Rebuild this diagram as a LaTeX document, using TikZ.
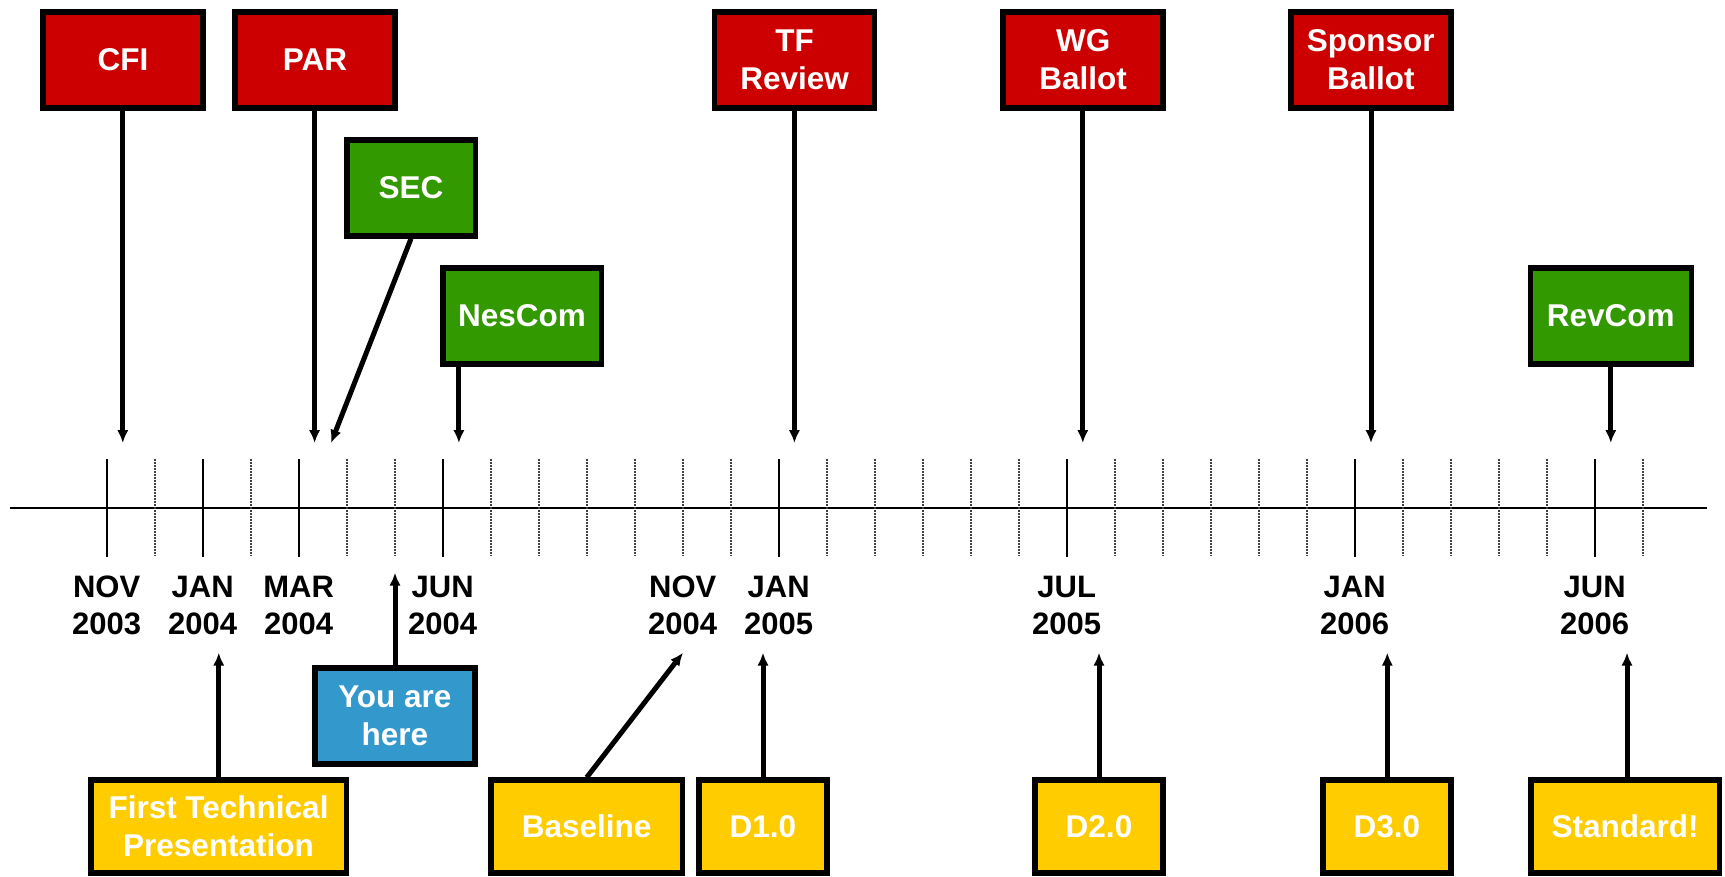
\documentclass[tikz,border=0pt]{standalone}
\usepackage{fontspec}
\setmainfont{Liberation Sans}
\usetikzlibrary{arrows.meta}
\definecolor{evred}{HTML}{CC0000}
\definecolor{evgreen}{HTML}{339900}
\definecolor{evyellow}{HTML}{FFCC00}
\definecolor{evblue}{HTML}{3399CC}
\tikzset{event/.style={
  rectangle,
  draw,line width=5.5pt,
  text=white,align=center,
  font=\bfseries\fontsize{31.5}{38}\selectfont,
  inner sep=0pt,minimum width=160pt,minimum height=96pt}}
\tikzset{datelabel/.style={
  align=center,inner sep=0pt,
  font=\bfseries\fontsize{31}{37.6}\selectfont}}
\tikzset{>={Latex[length=13pt,width=11.5pt]}}
\tikzset{pointer/.style={->,line width=5pt}}

\begin{document}
\begin{tikzpicture}[x={(1pt,0pt)},y={(0pt,-1pt)}]
  \useasboundingbox (0,0) rectangle (1725,877);
  % time axis, one tick per month from NOV 2003
  \draw[line width=2pt] (9.8,508) -- (1707,508);
  \foreach \i in {1,3,5,6,8,9,10,11,12,13,15,16,17,18,19,21,22,23,24,25,27,28,29,30,32}
    \draw[line width=1.6pt,black!75,dash pattern=on 1.5pt off 1.5pt]
      ({106.7+48*\i},459) -- ({106.7+48*\i},556);
  \foreach \i in {0,2,4,7,14,20,26,31}
    \draw[line width=2pt] ({106.7+48*\i},459) -- ({106.7+48*\i},557);
  \foreach \n/\i/\m/\y in {
      nov03/0/NOV/2003, jan04/2/JAN/2004, mar04/4/MAR/2004,
      jun04/7/JUN/2004, nov04/12/NOV/2004, jan05/14/JAN/2005,
      jul05/20/JUL/2005, jan06/26/JAN/2006, jun06/31/JUN/2006 }
    \node[datelabel] (\n) at ({106.7+48*\i},605.5) {\m\\\y};
  % events above the axis
  \node[event,fill=evred] (cfi) at (122.9,59.9) {CFI};
  \node[event,fill=evred] (par) at (315,59.9) {PAR};
  \node[event,fill=evred] (tf) at (794.7,59.9) {TF\\Review};
  \node[event,fill=evred] (wg) at (1083.2,59.9) {WG\\Ballot};
  \node[event,fill=evred] (sponsor) at (1370.8,59.9) {Sponsor\\Ballot};
  \node[event,fill=evgreen,minimum width=128.5pt] (sec) at (411,187.9) {SEC};
  \node[event,fill=evgreen,minimum width=158.5pt] (nescom) at (522,315.9) {NesCom};
  \node[event,fill=evgreen,minimum width=161pt] (revcom) at (1610.8,315.9) {RevCom};
  % documents below the axis
  \node[event,fill=evblue] (here) at (394.9,716) {You are\\here};
  \node[event,fill=evyellow,minimum width=255.5pt,minimum height=93pt]
    (ftp) at (218.5,826.7) {First Technical\\Presentation};
  \node[event,fill=evyellow,minimum width=191.8pt,minimum height=93pt]
    (baseline) at (586.7,826.7) {Baseline};
  \node[event,fill=evyellow,minimum width=128pt,minimum height=93pt]
    (dA) at (762.8,826.7) {D1.0};
  \node[event,fill=evyellow,minimum width=128pt,minimum height=93pt]
    (dB) at (1099,826.7) {D2.0};
  \node[event,fill=evyellow,minimum width=128pt,minimum height=93pt]
    (dC) at (1386.8,826.7) {D3.0};
  \node[event,fill=evyellow,minimum width=188.5pt,minimum height=93pt]
    (std) at (1625,826.7) {Standard!};
  % arrow ends
  \foreach \n/\x/\y in {
      cfi/122.8/443, par/314.6/443, sec/331/443,
      nescom/458.9/443, tf/794.4/443, wg/1082.8/443,
      sponsor/1371/443, revcom/1610.8/443,
      ftp/218.75/652.7, here/395/572.7, baseline/683/652.7,
      dA/763/652.7, dB/1099/652.7, dC/1387.3/652.7, std/1627/652.7 }
    \coordinate (tip\n) at (\x,\y);
  \foreach \n in {cfi,par,nescom,tf,wg,sponsor,revcom}
    \draw[pointer] (\n.south -| tip\n) -- (tip\n);
  \draw[pointer] (sec.south) -- (tipsec);
  \foreach \n in {ftp,here,dA,dB,dC,std}
    \draw[pointer] (\n.north -| tip\n) -- (tip\n);
  \draw[pointer] (baseline.north) -- (tipbaseline);
\end{tikzpicture}
\end{document}
